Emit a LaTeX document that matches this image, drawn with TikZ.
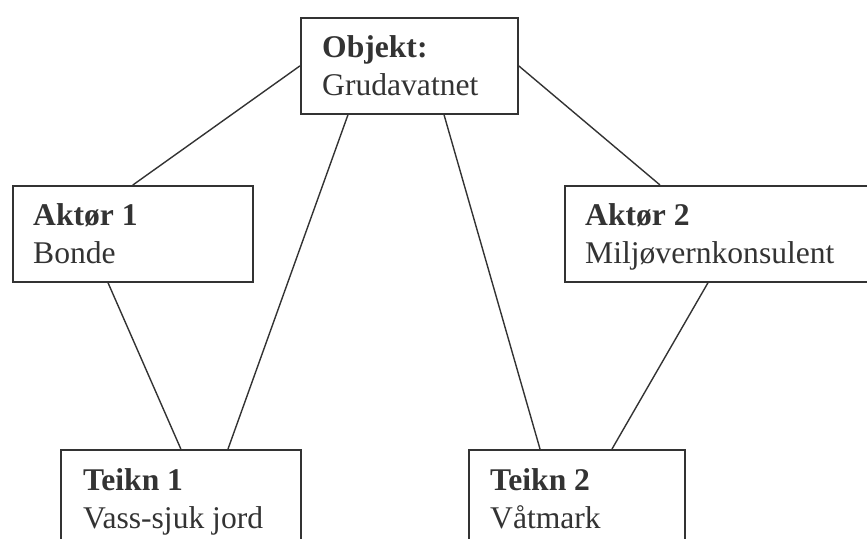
\documentclass[tikz,border=0pt]{standalone}
\usepackage{fontspec}
\setmainfont{Liberation Serif}
\usetikzlibrary{calc}
\definecolor{ink}{HTML}{333333}
\tikzset{
  box/.style={draw=ink, line width=1.7pt, rectangle, anchor=north west, inner sep=0pt, minimum height=96pt},
  txt/.style={anchor=north west, inner sep=0pt, align=left, text=ink, font=\fontsize{31.6}{38}\selectfont},
  link/.style={draw=ink, line width=1.4pt}
}
\begin{document}
\begin{tikzpicture}[x=1pt,y=-1pt]
\useasboundingbox (0,0) rectangle (867,538);
% boxes
\node[box, minimum width=217pt] (obj) at (300,17) {};
\node[box, minimum width=240pt] (a1) at (12,185) {};
\node[box, minimum width=330pt] (a2) at (564,185) {};
\node[box, minimum width=240pt, minimum height=140pt] (t1) at (60,449) {};
\node[box, minimum width=216pt, minimum height=140pt] (t2) at (468,449) {};
% texts
\node[txt] (objtxt) at ($(obj.north west)+(22,18)$) {\textbf{Objekt:}\\Grudavatnet};
\node[txt] (a1txt) at ($(a1.north west)+(21,18)$) {\textbf{Aktør 1}\\Bonde};
\node[txt] (a2txt) at ($(a2.north west)+(21,18)$) {\textbf{Aktør 2}\\Miljøvernkonsulent};
\node[txt] (t1txt) at ($(t1.north west)+(23,19)$) {\textbf{Teikn 1}\\Vass-sjuk jord};
\node[txt] (t2txt) at ($(t2.north west)+(22,19)$) {\textbf{Teikn 2}\\Våtmark};
% connectors
\draw[link] (obj.west) -- (a1.north);
\draw[link] (obj.east) -- ($(a2.north west)+(96,0)$);
\draw[link] ($(obj.south west)+(48,0)$) -- ($(t1.north west)+(168,0)$);
\draw[link] ($(obj.south west)+(144,0)$) -- ($(t2.north west)+(72,0)$);
\draw[link] ($(a1.south west)+(96,0)$) -- (t1.north);
\draw[link] ($(a2.south west)+(144,0)$) -- ($(t2.north west)+(144,0)$);
\end{tikzpicture}
\end{document}
